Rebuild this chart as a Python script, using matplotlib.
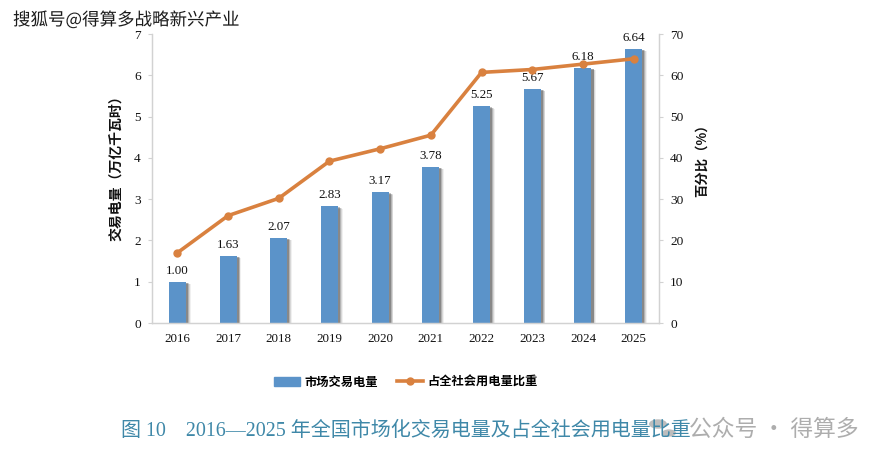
import matplotlib
matplotlib.use("Agg")
import matplotlib.pyplot as plt
import matplotlib.patheffects as pe
from matplotlib.patches import Circle, Patch

years = ["2016", "2017", "2018", "2019", "2020", "2021", "2022", "2023", "2024", "2025"]
trade_volume = [1.00, 1.63, 2.07, 2.83, 3.17, 3.78, 5.25, 5.67, 6.18, 6.64]
trade_share = [17.0, 26.0, 30.2, 39.2, 42.2, 45.5, 60.7, 61.4, 62.7, 64.0]
left_ticks = [0, 1, 2, 3, 4, 5, 6, 7]
right_ticks = [0, 10, 20, 30, 40, 50, 60, 70]

W, H = 888, 465
SERIF = ["Liberation Serif", "Noto Sans CJK SC"]
CJK = ["Noto Sans CJK SC", "DejaVu Sans"]
BAR_COLOR = "#5b93c9"
LINE_COLOR = "#d9813f"
AXIS_COLOR = "#d2d2d2"

plt.rcParams["font.family"] = SERIF
plt.rcParams["axes.unicode_minus"] = False

fig = plt.figure(figsize=(W / 100, H / 100), dpi=100)
ax = fig.add_axes([152 / W, 1 - 323 / H, (659 - 152) / W, (323 - 34) / H])
ax2 = ax.twinx()

# soft grey shadow down the right side of each bar
shadow = [
    pe.SimplePatchShadow(offset=(3.4, -1.8), shadow_rgbFace="#000000", alpha=0.06),
    pe.SimplePatchShadow(offset=(2.8, -1.5), shadow_rgbFace="#000000", alpha=0.10),
    pe.SimplePatchShadow(offset=(2.2, -1.1), shadow_rgbFace="#000000", alpha=0.16),
    pe.SimplePatchShadow(offset=(1.5, -0.7), shadow_rgbFace="#000000", alpha=0.24),
    pe.Normal(),
]
x = list(range(len(years)))
bars = ax.bar(x, trade_volume, width=0.335, color=BAR_COLOR, zorder=2)
for b in bars:
    b.set_path_effects(shadow)

for i, v in zip(x, trade_volume):
    ax.annotate(f"{v:.2f}", (i, v), xytext=(0, 3.5), textcoords="offset points",
                ha="center", va="bottom", fontsize=9.4, color="#111111", zorder=6)

line, = ax2.plot(x, trade_share, color=LINE_COLOR, lw=2.6, marker="o", ms=5.0,
                 label="占全社会用电量比重", zorder=4)

ax.set_xlim(-0.5, 9.5)
ax.set_ylim(0, 7)
ax2.set_ylim(0, 70)
ax.set_yticks(left_ticks)
ax2.set_yticks(right_ticks)
ax.set_xticks(x)
ax.set_xticklabels(years)

# line and labels sit above the bars
ax.set_zorder(1)
ax2.set_zorder(2)
ax.patch.set_visible(True)
ax2.patch.set_visible(False)

for a in (ax, ax2):
    a.spines["top"].set_visible(False)
    for s in ("left", "right", "bottom"):
        a.spines[s].set_color(AXIS_COLOR)
        a.spines[s].set_linewidth(0.9)
    a.tick_params(axis="y", length=3, width=0.8, color=AXIS_COLOR, labelsize=9.6,
                  labelcolor="#111111", pad=5)
ax.tick_params(axis="x", length=0, labelsize=9.4, labelcolor="#111111", pad=7.5)

fig.text(116 / W, 1 - 165 / H, "交易电量（万亿千瓦时）", rotation=90, ha="center", va="center",
         family=CJK, fontsize=10, fontweight="bold", color="#111111")
fig.text(702 / W, 1 - 157 / H, "百分比（%）", rotation=90, ha="center", va="center",
         family=CJK, fontsize=9.6, fontweight="bold", color="#111111")

bar_key = Patch(color=BAR_COLOR, label="市场交易电量")
fig.legend(handles=[bar_key, line], loc="center", bbox_to_anchor=(406 / W, 1 - 382 / H), ncol=2,
           frameon=False, handlelength=2.1, handletextpad=0.35, columnspacing=1.6,
           prop={"family": CJK, "size": 8.8, "weight": "bold"})

fig.text(121 / W, 1 - 431 / H, "图 10    2016—2025 年全国市场化交易电量及占全社会用电量比重",
         ha="left", va="center", family=SERIF, fontsize=14.45, color="#3f88a8")

# account watermarks over the figure
fig.text(13 / W, 1 - 20 / H, "搜狐号@得算多战略新兴产业", ha="left", va="center", family=CJK,
         fontsize=12.6, fontweight="medium", color="#1c1c1c",
         path_effects=[pe.withStroke(linewidth=1.6, foreground="white")])
fig.text(689 / W, 1 - 429 / H, "公众号 · 得算多", ha="left", va="center", family=CJK,
         fontsize=16.4, color="#a9a9a9", alpha=0.95)
for cx, cy, r in [(658, 424, 9), (669, 433, 7)]:
    fig.add_artist(Circle((cx / W, 1 - cy / H), r / W, transform=fig.transFigure,
                          color="#888888", alpha=0.55, lw=0))

fig.savefig("out.png", dpi=100)
plt.close(fig)
